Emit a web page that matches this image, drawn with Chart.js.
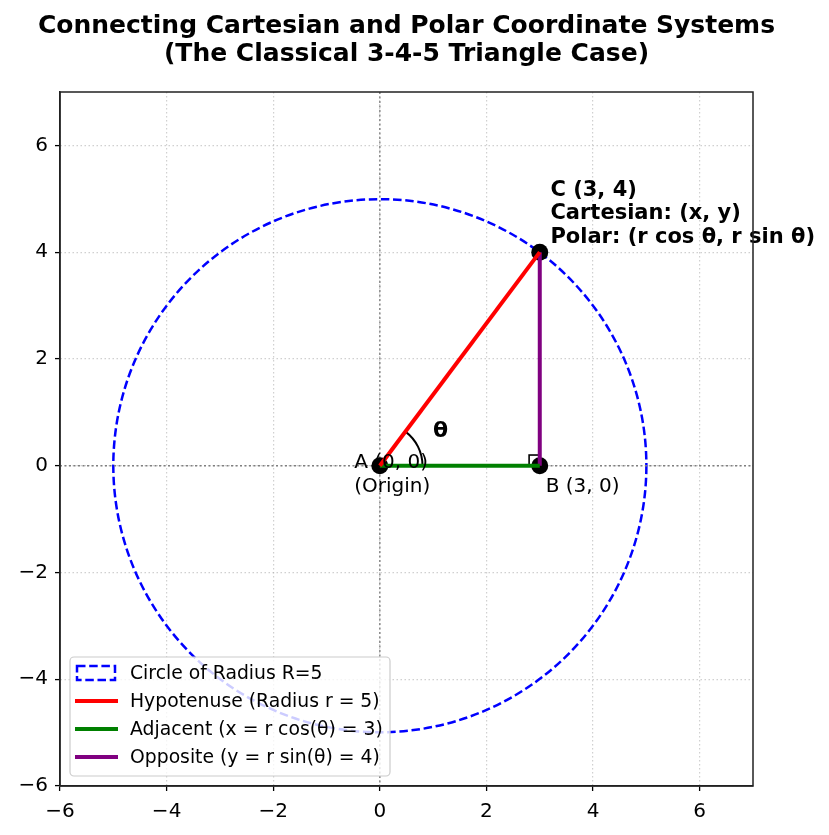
<!doctype html>
<html>
    <head>
        <title>3-4-5 Triangle</title>
        <script src="https://cdn.jsdelivr.net/npm/chart.js@4.4.0/dist/chart.umd.min.js"></script>
        <style>
            body { margin: 0; background: #fff; }
        </style>
    </head>
    <body>
        <canvas id="triChart" width="829" height="835"></canvas>

        <script>
            // values
            var vertexNames = ['A', 'B', 'C'];
            var vertexX = [0, 3, 3];
            var vertexY = [0, 0, 4];
            var circleRadius = 5;
            var thetaDeg = 53.13;
            var xTicks = [-6, -4, -2, 0, 2, 4, 6];
            var yTicks = [-6, -4, -2, 0, 2, 4, 6];
            var xRange = [-6, 7];
            var yRange = [-6, 7];

            var titleLines = ['Connecting Cartesian and Polar Coordinate Systems', '(The Classical 3-4-5 Triangle Case)'];
            var legendLabels = ['Circle of Radius R=5', 'Hypotenuse (Radius r = 5)', 'Adjacent (x = r cos(θ) = 3)', 'Opposite (y = r sin(θ) = 4)'];
            var labelA = ['A (0, 0)', '(Origin)'];
            var labelB = ['B (3, 0)'];
            var labelC = ['C (3, 4)', 'Cartesian: (x, y)', 'Polar: (r cos θ, r sin θ)'];

            var FONT = "'DejaVu Sans', sans-serif";

            function seg(i, j) {
                return [{x: vertexX[i], y: vertexY[i]}, {x: vertexX[j], y: vertexY[j]}];
            }

            var vertexPoints = vertexX.map(function (x, i) { return {x: x, y: vertexY[i]}; });

            // circle, arc, axis lines, right-angle mark, texts and legend
            var extras = {
                id: 'extras',
                beforeDatasetsDraw: function (chart) {
                    var ctx = chart.ctx, xs = chart.scales.x, ys = chart.scales.y;
                    var cx = xs.getPixelForValue(vertexX[0]), cy = ys.getPixelForValue(vertexY[0]);
                    var r = xs.getPixelForValue(circleRadius) - cx;
                    ctx.save();
                    ctx.strokeStyle = '#0000ff';
                    ctx.lineWidth = 2.5;
                    ctx.setLineDash([8.5, 3.7]);
                    ctx.beginPath();
                    ctx.arc(cx, cy, r, 0, Math.PI * 2);
                    ctx.stroke();
                    ctx.restore();
                },
                beforeDatasetDraw: function (chart, args) {
                    if (args.index !== 3) return;
                    var ctx = chart.ctx, xs = chart.scales.x, ys = chart.scales.y, a = chart.chartArea;
                    var x0 = xs.getPixelForValue(0), y0 = ys.getPixelForValue(0);
                    ctx.save();
                    // axis lines through origin
                    ctx.strokeStyle = '#808080';
                    ctx.lineWidth = 1.4;
                    ctx.setLineDash([2, 2.5]);
                    ctx.beginPath();
                    ctx.moveTo(a.left, y0); ctx.lineTo(a.right, y0);
                    ctx.moveTo(x0, a.top); ctx.lineTo(x0, a.bottom);
                    ctx.stroke();
                    ctx.setLineDash([]);
                    // angle arc
                    var ar = xs.getPixelForValue(0.8) - x0;
                    ctx.strokeStyle = '#000';
                    ctx.lineWidth = 2;
                    ctx.beginPath();
                    ctx.arc(x0, y0, ar, 0, -thetaDeg * Math.PI / 180, true);
                    ctx.stroke();
                    // right-angle mark at B
                    var bx = xs.getPixelForValue(vertexX[1]), by = ys.getPixelForValue(vertexY[1]);
                    var s = xs.getPixelForValue(0.2) - x0;
                    ctx.lineWidth = 1.6;
                    ctx.strokeRect(bx - s, by - s, s, s);
                    ctx.restore();
                },
                afterDatasetsDraw: function (chart) {
                    var ctx = chart.ctx, xs = chart.scales.x, ys = chart.scales.y, a = chart.chartArea;
                    ctx.save();
                    ctx.fillStyle = '#000';
                    ctx.textBaseline = 'middle';
                    ctx.textAlign = 'left';
                    function lines(arr, x, y, step, font) {
                        ctx.font = font;
                        var px = xs.getPixelForValue(x), py = ys.getPixelForValue(y);
                        arr.forEach(function (t, i) { ctx.fillText(t, px, py + i * step); });
                    }
                    lines(labelA, -0.48, 0.05, 23.5, '20px ' + FONT);
                    lines(labelB, 3.11, -0.4, 23, '20px ' + FONT);
                    lines(labelC, 3.2, 5.16, 23.5, 'bold 21px ' + FONT);
                    ctx.textAlign = 'center';
                    lines(['θ'], 1.14, 0.64, 0, 'bold 22px ' + FONT);

                    // legend
                    var lx = a.left + 10, ly = 657, lw = 320, lh = 119;
                    ctx.beginPath();
                    ctx.roundRect(lx, ly, lw, lh, 4);
                    ctx.fillStyle = 'rgba(255,255,255,0.8)';
                    ctx.fill();
                    ctx.strokeStyle = '#cccccc';
                    ctx.lineWidth = 1.2;
                    ctx.stroke();
                    var colors = ['#0000ff', '#ff0000', '#008000', '#800080'];
                    ctx.font = '18.8px ' + FONT;
                    ctx.textAlign = 'left';
                    legendLabels.forEach(function (t, i) {
                        var rowY = 673 + i * 28;
                        ctx.strokeStyle = colors[i];
                        if (i === 0) {
                            ctx.lineWidth = 2.5;
                            ctx.setLineDash([8.5, 3.7]);
                            ctx.strokeRect(77, rowY - 7, 38, 14);
                            ctx.setLineDash([]);
                        } else {
                            ctx.lineWidth = 4;
                            ctx.beginPath();
                            ctx.moveTo(75, rowY); ctx.lineTo(118, rowY);
                            ctx.stroke();
                        }
                        ctx.fillStyle = '#000';
                        ctx.fillText(t, 130, rowY + 1);
                    });

                    // frame
                    ctx.strokeStyle = '#222';
                    ctx.lineWidth = 1.5;
                    ctx.strokeRect(a.left, a.top, a.right - a.left, a.bottom - a.top);

                    // title
                    ctx.fillStyle = '#000';
                    ctx.font = 'bold 25px ' + FONT;
                    ctx.textAlign = 'center';
                    titleLines.forEach(function (t, i) {
                        ctx.fillText(t, (a.left + a.right) / 2, 26 + i * 28);
                    });
                    ctx.restore();
                }
            };

            function axis(range, ticks, isX) {
                return {
                    type: 'linear',
                    min: range[0],
                    max: range[1],
                    afterBuildTicks: function (scale) {
                        scale.ticks = ticks.map(function (v) { return {value: v}; });
                    },
                    afterFit: function (scale) {
                        if (isX) scale.height = 49; else scale.width = 60;
                    },
                    grid: {
                        color: 'rgba(170,170,170,0.55)',
                        lineWidth: 1.2,
                        tickColor: '#000',
                        tickLength: 5,
                        tickWidth: 1.3
                    },
                    border: { color: '#222', width: 1.5, dash: [1.5, 2.5] },
                    ticks: {
                        color: '#000',
                        padding: isX ? 9 : 7,
                        font: { family: FONT, size: 20 },
                        callback: function (v) { return String(v).replace('-', '\u2212'); }
                    }
                };
            }

            var ctx = document.getElementById('triChart').getContext('2d');
            var chart = new Chart(ctx, {
                type: 'scatter',
                data: {
                    datasets: [
                        { label: legendLabels[1], data: seg(0, 2), showLine: true, borderColor: '#ff0000', borderWidth: 4, pointRadius: 0 },
                        { label: legendLabels[2], data: seg(0, 1), showLine: true, borderColor: '#008000', borderWidth: 4, pointRadius: 0 },
                        { label: legendLabels[3], data: seg(1, 2), showLine: true, borderColor: '#800080', borderWidth: 4, pointRadius: 0 },
                        { label: 'Vertices', data: vertexPoints, showLine: false, pointRadius: 8.5, backgroundColor: '#000', borderColor: '#000', borderWidth: 0 }
                    ]
                },
                options: {
                    responsive: false,
                    animation: false,
                    devicePixelRatio: 1,
                    layout: { padding: { top: 92, right: 76, left: 0, bottom: 0 } },
                    plugins: { legend: { display: false }, tooltip: { enabled: false } },
                    scales: {
                        x: axis(xRange, xTicks, true),
                        y: axis(yRange, yTicks, false)
                    }
                },
                plugins: [extras]
            });
        </script>
    </body>
</html>
